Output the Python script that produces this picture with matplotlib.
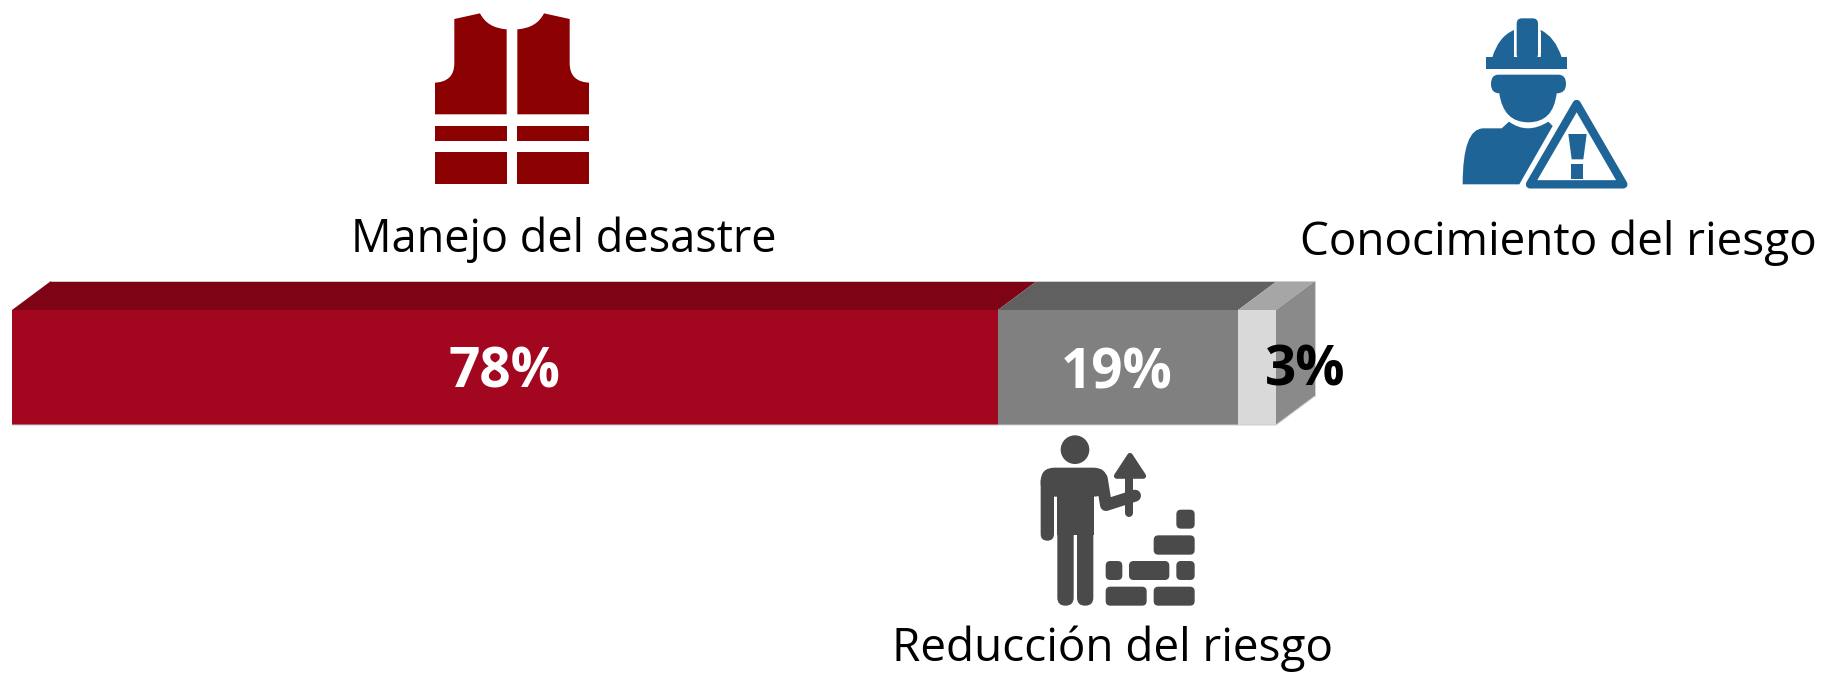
import numpy as np
import matplotlib
matplotlib.use('Agg')
import matplotlib.pyplot as plt
from matplotlib.patches import Polygon, Rectangle, Circle, FancyBboxPatch, PathPatch
from matplotlib.path import Path

W, H = 1821, 673

categories = ['Manejo del desastre', 'Reducción del riesgo', 'Conocimiento del riesgo']
shares = [78, 19, 3]
share_labels = ['78%', '19%', '3%']

front_colors = ['#A2071F', '#808080', '#D9D9D9']
top_colors = ['#7E0415', '#606060', '#A6A6A6']
side_color = '#8A8A8A'
label_colors = ['white', 'white', 'black']
VEST = '#8B0000'
WORKER = '#1F6496'
BUILDER = '#4A4A4A'

plt.rcParams['font.family'] = ['Open Sans', 'DejaVu Sans']

fig = plt.figure(figsize=(W / 100, H / 100), dpi=100, facecolor='white')

# bar axes: 0-100 % across the front of the bar
ax = fig.add_axes([12 / W, (H - 425) / H, 1264 / W, 115 / H])
ax.set_xlim(0, 100)
ax.set_ylim(0, 1)
ax.axis('off')

dx = 39 / 1264 * 100
dy = 29 / 115

left = 0
for share, fc, tc in zip(shares, front_colors, top_colors):
    ax.barh(0.5, share, height=1, left=left, color=fc, linewidth=0, clip_on=False)
    ax.add_patch(Polygon([(left, 1), (left + dx, 1 + dy), (left + share + dx, 1 + dy), (left + share, 1)],
                         closed=True, fc=tc, ec='none', clip_on=False))
    left += share
ax.add_patch(Polygon([(left, 0), (left + dx, dy), (left + dx, 1 + dy), (left, 1)],
                     closed=True, fc=side_color, ec='none', clip_on=False))
ax.plot([0, left, left + dx], [0, 0, dy], color='#CFCFCF', lw=0.7, clip_on=False)
ax.plot([dx, left + dx, left + dx], [1 + dy, 1 + dy, dy], color='#D0D0D0', lw=0.7, clip_on=False)

# pixel overlay for icons and text
pa = fig.add_axes([0, 0, 1, 1], facecolor='none')
pa.set_xlim(0, W)
pa.set_ylim(H, 0)
pa.axis('off')


def poly(pts, ox, oy, color, **kw):
    xy = [(ox + x / 3, oy + y / 3) for x, y in pts]
    pa.add_patch(Polygon(xy, closed=True, fc=color, ec='none', **kw))


def curve(verts, codes, ox, oy, color):
    xy = [(ox + x / 3, oy + y / 3) for x, y in verts]
    pa.add_patch(PathPatch(Path(xy, codes), fc=color, ec='none'))


def rbox(x0, y0, x1, y1, r, ox, oy, color, ec='none', lw=0):
    pa.add_patch(FancyBboxPatch((ox + (x0 + r) / 3, oy + (y0 + r) / 3), (x1 - x0 - 2 * r) / 3, (y1 - y0 - 2 * r) / 3,
                                boxstyle='round,pad=%f,rounding_size=%f' % (r / 3, r / 3),
                                fc=color, ec=ec, lw=lw))


def stroke(pts, lw, ox, oy, color):
    xs = [ox + p[0] / 3 for p in pts]
    ys = [oy + p[1] / 3 for p in pts]
    pa.plot(xs, ys, color=color, lw=lw * 0.24, solid_capstyle='round', solid_joinstyle='round')


# vest
M, L, Q, Z = Path.MOVETO, Path.LINETO, Path.CURVE3, Path.CLOSEPOLY
vx, vy = 400, 0
for flip in [False, True]:
    f = (lambda x: 672 - x) if flip else (lambda x: x)
    verts = [(163, 57), (240, 40), (262, 84), (320, 88), (320, 343), (105, 343), (105, 248),
             (163, 245), (163, 190), (163, 57), (163, 57)]
    codes = [M, L, Q, Q, L, L, L, Q, Q, L, Z]
    curve([(f(x), y) for x, y in verts], codes, vx, vy, VEST)
    poly([(f(105), 377), (f(320), 377), (f(320), 422), (f(105), 422)], vx, vy, VEST)
    poly([(f(105), 456), (f(320), 456), (f(320), 552), (f(105), 552)], vx, vy, VEST)

# worker with warning sign
wx, wy = 1440, 0
curve([(157, 172), (175, 110), (222, 90), (222, 172), (157, 172)], [M, Q, Q, L, Z], wx, wy, WORKER)
curve([(302, 172), (302, 90), (345, 110), (365, 172), (302, 172)], [M, L, Q, Q, Z], wx, wy, WORKER)
poly([(222, 172), (302, 172), (302, 186), (222, 186)], wx, wy, WORKER)
rbox(222, 140, 302, 187, 22, wx, wy, 'white')
poly([(222, 95), (229, 95), (229, 160), (222, 160)], wx, wy, 'white')
poly([(295, 95), (302, 95), (302, 160), (295, 160)], wx, wy, 'white')
rbox(230, 55, 294, 178, 16, wx, wy, WORKER)
poly([(138, 172), (382, 172), (382, 207), (138, 207)], wx, wy, WORKER)
curve([(175, 224), (355, 224), (378, 224), (378, 252), (378, 280), (350, 280),
       (340, 367), (265, 367), (190, 367), (178, 280), (153, 280), (153, 252), (153, 224), (175, 224), (175, 224)],
      [M, L, Q, Q, Q, Q, Q, Q, Q, Q, Q, Q, Q, Q, Z], wx, wy, WORKER)
curve([(68, 553), (68, 385), (130, 385), (185, 385), (207, 365), (262, 405), (325, 365), (338, 378), (238, 553), (68, 553)],
      [M, Q, Q, L, L, Q, Q, L, L, Z], wx, wy, WORKER)
tri = [(wx + x / 3, wy + y / 3) for x, y in [(410, 312), (550, 553), (270, 553)]]
pa.add_patch(Polygon(tri, closed=True, fc='white', ec=WORKER, lw=6, joinstyle='round'))
poly([(385, 402), (440, 402), (430, 478), (395, 478)], wx, wy, WORKER)
poly([(392, 492), (430, 492), (430, 537), (392, 537)], wx, wy, WORKER)

# builder with bricks
bx, by = 1020, 425
pa.add_patch(Circle((bx + 165 / 3, by + 74 / 3), 43 / 3, fc=BUILDER, ec='none'))
rbox(62, 128, 262, 215, 42, bx, by, BUILDER)
poly([(112, 170), (222, 170), (222, 330), (112, 330)], bx, by, BUILDER)
rbox(62, 150, 102, 347, 20, bx, by, BUILDER)
rbox(112, 300, 161, 542, 24, bx, by, BUILDER)
rbox(171, 300, 220, 542, 24, bx, by, BUILDER)
stroke([(245, 160), (258, 240), (345, 212)], 36, bx, by, BUILDER)
stroke([(328, 150), (328, 265)], 24, bx, by, BUILDER)
pts = [(330, 92), (370, 153), (290, 153)]
pa.add_patch(Polygon([(bx + x / 3, by + y / 3) for x, y in pts], closed=True, fc=BUILDER, ec=BUILDER, lw=4,
                     joinstyle='round'))
bricks = [(257, 485, 380, 542), (401, 485, 524, 542), (257, 408, 307, 465), (327, 408, 448, 465),
          (469, 408, 524, 465), (401, 331, 524, 389), (469, 254, 524, 311)]
for b in bricks:
    rbox(b[0], b[1], b[2], b[3], 14, bx, by, BUILDER)

# captions
cap_pos = [(564, 240), (1112, 649), (1558, 243)]
cap_size = [32.5, 33, 33]
for name, (x, y), s in zip(categories, cap_pos, cap_size):
    pa.text(x, y, name, fontsize=s, ha='center', va='center', color='black')

# share labels
lab_pos = [(505, 373), (1117, 374), (1305, 371)]
for txt, c, (x, y) in zip(share_labels, label_colors, lab_pos):
    pa.text(x, y, txt, fontsize=39.5, fontweight='bold', ha='center', va='center', color=c)

fig.savefig('out.png', dpi=100)
